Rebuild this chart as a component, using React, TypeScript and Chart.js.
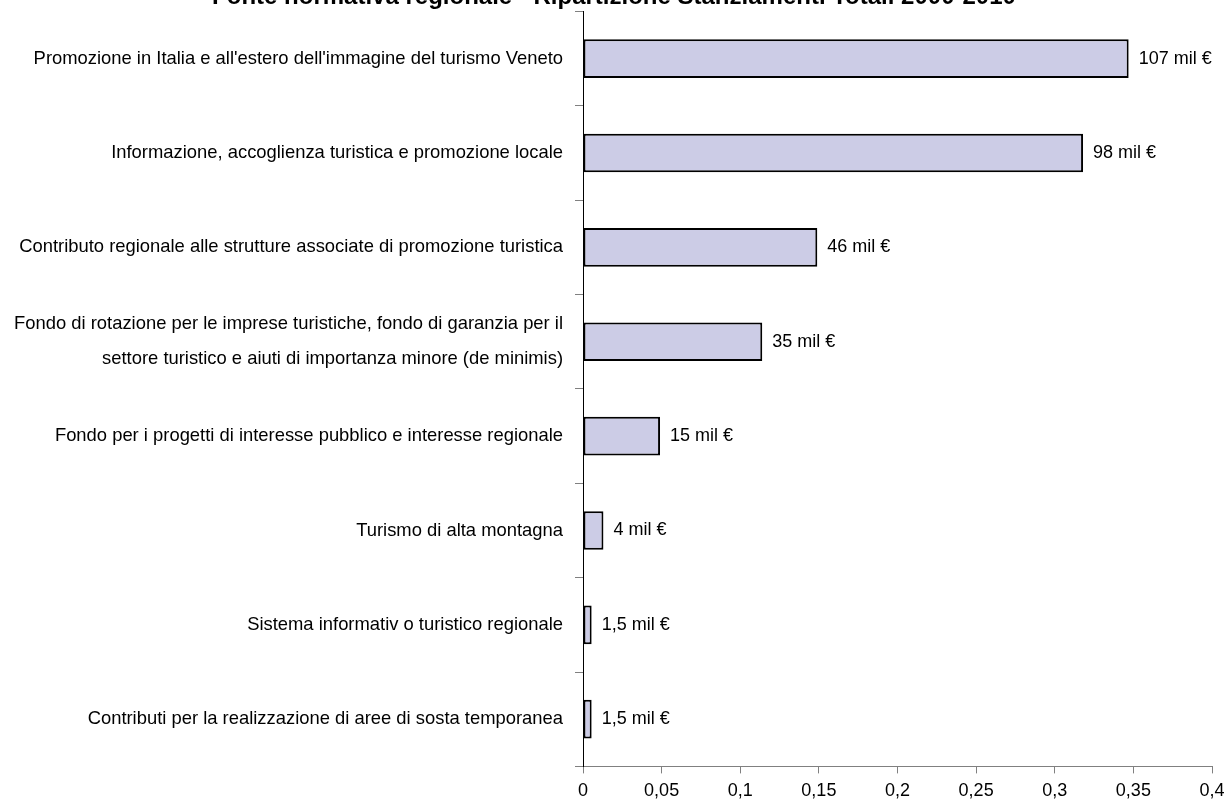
import React, { useEffect, useRef } from "react";
import { Chart, registerables } from "chart.js";

Chart.register(...registerables);

const titleText = "Fonte normativa regionale - Ripartizione Stanziamenti Totali 2000-2010";

const categories: (string | string[])[] = [
  "Promozione in Italia e all'estero dell'immagine del turismo Veneto",
  "Informazione, accoglienza turistica e promozione locale",
  "Contributo regionale alle strutture associate di promozione turistica",
  [
    "Fondo di rotazione per le imprese turistiche, fondo di garanzia per il",
    "settore turistico e aiuti di importanza minore (de minimis)",
  ],
  "Fondo per i progetti di interesse pubblico e interesse regionale",
  "Turismo di alta montagna",
  "Sistema informativ o turistico regionale",
  "Contributi per la realizzazione di aree di sosta temporanea",
];

const shares = [0.347, 0.318, 0.149, 0.114, 0.049, 0.013, 0.0055, 0.0055];

const valueLabels = [
  "107 mil €",
  "98 mil €",
  "46 mil €",
  "35 mil €",
  "15 mil €",
  "4 mil €",
  "1,5 mil €",
  "1,5 mil €",
];

const xTickLabels = ["0", "0,05", "0,1", "0,15", "0,2", "0,25", "0,3", "0,35", "0,4"];

const FONT = "'Liberation Sans', Arial, sans-serif";
const SHIFT = 18;

const barLabelPlugin = {
  id: "barLabels",
  afterDatasetsDraw(chart: any) {
    const ctx = chart.ctx;
    const meta = chart.getDatasetMeta(0);
    ctx.save();
    ctx.font = `18px ${FONT}`;
    ctx.fillStyle = "#000";
    ctx.textAlign = "left";
    ctx.textBaseline = "middle";
    meta.data.forEach((bar: any, i: number) => {
      ctx.fillText(valueLabels[i], bar.x + 10, bar.y);
    });
    ctx.restore();
  },
};

export default function App() {
  const canvasRef = useRef<HTMLCanvasElement | null>(null);

  useEffect(() => {
    if (!canvasRef.current) return;
    const chart = new Chart(canvasRef.current, {
      type: "bar",
      data: {
        labels: categories,
        datasets: [
          {
            data: shares,
            backgroundColor: "rgb(204,204,230)",
            borderColor: "#000",
            borderWidth: 2,
            borderSkipped: false,
            barPercentage: 0.41,
            categoryPercentage: 1,
          },
        ],
      },
      options: {
        indexAxis: "y",
        responsive: false,
        animation: false,
        layout: { padding: { top: 0, right: 0, bottom: -9, left: 0 } },
        plugins: {
          legend: { display: false },
          tooltip: { enabled: false },
          title: {
            display: true,
            text: titleText,
            color: "#000",
            font: { family: FONT, size: 24, weight: "bold", lineHeight: 1.2 },
            padding: { top: 0, bottom: 0 },
          },
        },
        scales: {
          x: {
            min: 0,
            max: 0.4,
            afterFit: (scale: any) => {
              scale.paddingRight = 16;
            },
            ticks: {
              stepSize: 0.05,
              color: "#000",
              padding: 7,
              font: { family: FONT, size: 18, lineHeight: 1.2 },
              callback: (_v: any, index: number) => xTickLabels[index],
            },
            grid: {
              drawOnChartArea: false,
              drawTicks: true,
              tickLength: 7,
              color: "#808080",
            },
            border: { display: true, color: "#808080", width: 1 },
          },
          y: {
            afterFit: (scale: any) => {
              scale.width = 583;
            },
            ticks: {
              color: "#000",
              padding: 12,
              font: { family: FONT, size: 18.4, lineHeight: 1.9 },
            },
            grid: {
              offset: true,
              drawOnChartArea: false,
              drawTicks: true,
              tickLength: 8,
              color: "#808080",
            },
            border: { display: true, color: "#000", width: 1 },
          },
        },
      },
      plugins: [barLabelPlugin],
    });
    return () => chart.destroy();
  }, []);

  return (
    <div style={{ position: "absolute", top: -SHIFT, left: 0, width: 1228, height: 800 + SHIFT }}>
      <canvas ref={canvasRef} width={1228} height={800 + SHIFT} />
    </div>
  );
}
